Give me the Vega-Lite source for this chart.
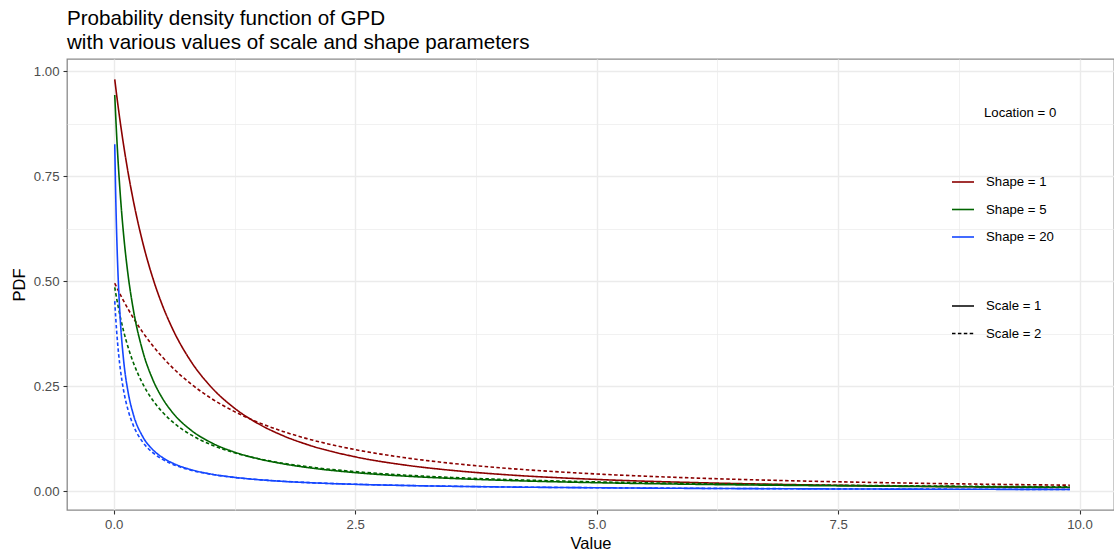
{
  "$schema": "https://vega.github.io/schema/vega-lite/v6.json",
  "width": 1047,
  "height": 451,
  "autosize": {"type": "none"},
  "padding": {"left": 67, "top": 59, "right": 0, "bottom": 44},
  "background": "white",
  "title": {
    "text": ["Probability density function of GPD", "with various values of scale and shape parameters"],
    "anchor": "start",
    "frame": "group",
    "font": "Liberation Sans",
    "fontSize": 20.6,
    "fontWeight": "normal",
    "color": "black",
    "lineHeight": 24,
    "offset": 5
  },
  "data": {
    "values": [
      {"x":0.01,"shape":1,"scale":1,"pdf":0.9803},{"x":0.02,"shape":1,"scale":1,"pdf":0.9612},{"x":0.03,"shape":1,"scale":1,"pdf":0.9426},{"x":0.04,"shape":1,"scale":1,"pdf":0.9246},{"x":0.05,"shape":1,"scale":1,"pdf":0.9070},{"x":0.07,"shape":1,"scale":1,"pdf":0.8734},{"x":0.1,"shape":1,"scale":1,"pdf":0.8264},{"x":0.15,"shape":1,"scale":1,"pdf":0.7561},{"x":0.2,"shape":1,"scale":1,"pdf":0.6944},{"x":0.3,"shape":1,"scale":1,"pdf":0.5917},{"x":0.4,"shape":1,"scale":1,"pdf":0.5102},{"x":0.5,"shape":1,"scale":1,"pdf":0.4444},{"x":0.6,"shape":1,"scale":1,"pdf":0.3906},{"x":0.8,"shape":1,"scale":1,"pdf":0.3086},{"x":1,"shape":1,"scale":1,"pdf":0.25},{"x":1.25,"shape":1,"scale":1,"pdf":0.1975},{"x":1.5,"shape":1,"scale":1,"pdf":0.16},{"x":1.75,"shape":1,"scale":1,"pdf":0.1322},{"x":2,"shape":1,"scale":1,"pdf":0.1111},{"x":2.5,"shape":1,"scale":1,"pdf":0.0816},{"x":3,"shape":1,"scale":1,"pdf":0.0625},{"x":3.5,"shape":1,"scale":1,"pdf":0.0494},{"x":4,"shape":1,"scale":1,"pdf":0.04},{"x":5,"shape":1,"scale":1,"pdf":0.0278},{"x":6,"shape":1,"scale":1,"pdf":0.0204},{"x":7,"shape":1,"scale":1,"pdf":0.0156},{"x":8,"shape":1,"scale":1,"pdf":0.0123},{"x":9,"shape":1,"scale":1,"pdf":0.01},{"x":9.9,"shape":1,"scale":1,"pdf":0.0084},
      {"x":0.01,"shape":1,"scale":2,"pdf":0.4950},{"x":0.02,"shape":1,"scale":2,"pdf":0.4902},{"x":0.03,"shape":1,"scale":2,"pdf":0.4853},{"x":0.04,"shape":1,"scale":2,"pdf":0.4806},{"x":0.05,"shape":1,"scale":2,"pdf":0.4759},{"x":0.07,"shape":1,"scale":2,"pdf":0.4668},{"x":0.1,"shape":1,"scale":2,"pdf":0.4535},{"x":0.15,"shape":1,"scale":2,"pdf":0.4327},{"x":0.2,"shape":1,"scale":2,"pdf":0.4132},{"x":0.3,"shape":1,"scale":2,"pdf":0.3781},{"x":0.4,"shape":1,"scale":2,"pdf":0.3472},{"x":0.5,"shape":1,"scale":2,"pdf":0.32},{"x":0.6,"shape":1,"scale":2,"pdf":0.2959},{"x":0.8,"shape":1,"scale":2,"pdf":0.2551},{"x":1,"shape":1,"scale":2,"pdf":0.2222},{"x":1.25,"shape":1,"scale":2,"pdf":0.1893},{"x":1.5,"shape":1,"scale":2,"pdf":0.1633},{"x":1.75,"shape":1,"scale":2,"pdf":0.1422},{"x":2,"shape":1,"scale":2,"pdf":0.125},{"x":2.5,"shape":1,"scale":2,"pdf":0.0988},{"x":3,"shape":1,"scale":2,"pdf":0.08},{"x":3.5,"shape":1,"scale":2,"pdf":0.0661},{"x":4,"shape":1,"scale":2,"pdf":0.0556},{"x":5,"shape":1,"scale":2,"pdf":0.0408},{"x":6,"shape":1,"scale":2,"pdf":0.0313},{"x":7,"shape":1,"scale":2,"pdf":0.0247},{"x":8,"shape":1,"scale":2,"pdf":0.02},{"x":9,"shape":1,"scale":2,"pdf":0.0165},{"x":9.9,"shape":1,"scale":2,"pdf":0.0141},
      {"x":0.01,"shape":5,"scale":1,"pdf":0.9431},{"x":0.02,"shape":5,"scale":1,"pdf":0.8919},{"x":0.03,"shape":5,"scale":1,"pdf":0.8456},{"x":0.04,"shape":5,"scale":1,"pdf":0.8035},{"x":0.05,"shape":5,"scale":1,"pdf":0.7651},{"x":0.07,"shape":5,"scale":1,"pdf":0.6976},{"x":0.1,"shape":5,"scale":1,"pdf":0.6147},{"x":0.15,"shape":5,"scale":1,"pdf":0.5109},{"x":0.2,"shape":5,"scale":1,"pdf":0.4353},{"x":0.3,"shape":5,"scale":1,"pdf":0.3330},{"x":0.4,"shape":5,"scale":1,"pdf":0.2676},{"x":0.5,"shape":5,"scale":1,"pdf":0.2224},{"x":0.6,"shape":5,"scale":1,"pdf":0.1895},{"x":0.8,"shape":5,"scale":1,"pdf":0.1450},{"x":1,"shape":5,"scale":1,"pdf":0.1165},{"x":1.25,"shape":5,"scale":1,"pdf":0.0928},{"x":1.5,"shape":5,"scale":1,"pdf":0.0767},{"x":1.75,"shape":5,"scale":1,"pdf":0.0651},{"x":2,"shape":5,"scale":1,"pdf":0.0563},{"x":2.5,"shape":5,"scale":1,"pdf":0.0440},{"x":3,"shape":5,"scale":1,"pdf":0.0359},{"x":3.5,"shape":5,"scale":1,"pdf":0.0302},{"x":4,"shape":5,"scale":1,"pdf":0.0259},{"x":5,"shape":5,"scale":1,"pdf":0.0200},{"x":6,"shape":5,"scale":1,"pdf":0.0162},{"x":7,"shape":5,"scale":1,"pdf":0.0136},{"x":8,"shape":5,"scale":1,"pdf":0.0116},{"x":9,"shape":5,"scale":1,"pdf":0.0101},{"x":9.9,"shape":5,"scale":1,"pdf":0.0090},
      {"x":0.01,"shape":5,"scale":2,"pdf":0.4854},{"x":0.02,"shape":5,"scale":2,"pdf":0.4716},{"x":0.03,"shape":5,"scale":2,"pdf":0.4584},{"x":0.04,"shape":5,"scale":2,"pdf":0.4460},{"x":0.05,"shape":5,"scale":2,"pdf":0.4341},{"x":0.07,"shape":5,"scale":2,"pdf":0.4120},{"x":0.1,"shape":5,"scale":2,"pdf":0.3825},{"x":0.15,"shape":5,"scale":2,"pdf":0.3412},{"x":0.2,"shape":5,"scale":2,"pdf":0.3074},{"x":0.3,"shape":5,"scale":2,"pdf":0.2555},{"x":0.4,"shape":5,"scale":2,"pdf":0.2176},{"x":0.5,"shape":5,"scale":2,"pdf":0.1890},{"x":0.6,"shape":5,"scale":2,"pdf":0.1665},{"x":0.8,"shape":5,"scale":2,"pdf":0.1338},{"x":1,"shape":5,"scale":2,"pdf":0.1112},{"x":1.25,"shape":5,"scale":2,"pdf":0.0913},{"x":1.5,"shape":5,"scale":2,"pdf":0.0771},{"x":1.75,"shape":5,"scale":2,"pdf":0.0664},{"x":2,"shape":5,"scale":2,"pdf":0.0582},{"x":2.5,"shape":5,"scale":2,"pdf":0.0464},{"x":3,"shape":5,"scale":2,"pdf":0.0383},{"x":3.5,"shape":5,"scale":2,"pdf":0.0325},{"x":4,"shape":5,"scale":2,"pdf":0.0281},{"x":5,"shape":5,"scale":2,"pdf":0.0220},{"x":6,"shape":5,"scale":2,"pdf":0.0180},{"x":7,"shape":5,"scale":2,"pdf":0.0151},{"x":8,"shape":5,"scale":2,"pdf":0.0130},{"x":9,"shape":5,"scale":2,"pdf":0.0113},{"x":9.9,"shape":5,"scale":2,"pdf":0.0101},
      {"x":0.01,"shape":20,"scale":1,"pdf":0.8258},{"x":0.02,"shape":20,"scale":1,"pdf":0.7024},{"x":0.03,"shape":20,"scale":1,"pdf":0.6105},{"x":0.04,"shape":20,"scale":1,"pdf":0.5395},{"x":0.05,"shape":20,"scale":1,"pdf":0.4830},{"x":0.07,"shape":20,"scale":1,"pdf":0.3988},{"x":0.1,"shape":20,"scale":1,"pdf":0.3155},{"x":0.15,"shape":20,"scale":1,"pdf":0.2333},{"x":0.2,"shape":20,"scale":1,"pdf":0.1845},{"x":0.3,"shape":20,"scale":1,"pdf":0.1296},{"x":0.4,"shape":20,"scale":1,"pdf":0.0995},{"x":0.5,"shape":20,"scale":1,"pdf":0.0806},{"x":0.6,"shape":20,"scale":1,"pdf":0.0677},{"x":0.8,"shape":20,"scale":1,"pdf":0.0511},{"x":1,"shape":20,"scale":1,"pdf":0.0409},{"x":1.25,"shape":20,"scale":1,"pdf":0.0327},{"x":1.5,"shape":20,"scale":1,"pdf":0.0272},{"x":1.75,"shape":20,"scale":1,"pdf":0.0232},{"x":2,"shape":20,"scale":1,"pdf":0.0203},{"x":2.5,"shape":20,"scale":1,"pdf":0.0161},{"x":3,"shape":20,"scale":1,"pdf":0.0134},{"x":3.5,"shape":20,"scale":1,"pdf":0.0114},{"x":4,"shape":20,"scale":1,"pdf":0.0099},{"x":5,"shape":20,"scale":1,"pdf":0.0079},{"x":6,"shape":20,"scale":1,"pdf":0.0065},{"x":7,"shape":20,"scale":1,"pdf":0.0055},{"x":8,"shape":20,"scale":1,"pdf":0.0048},{"x":9,"shape":20,"scale":1,"pdf":0.0043},{"x":9.9,"shape":20,"scale":1,"pdf":0.0039},
      {"x":0.01,"shape":20,"scale":2,"pdf":0.4524},{"x":0.02,"shape":20,"scale":2,"pdf":0.4129},{"x":0.03,"shape":20,"scale":2,"pdf":0.3796},{"x":0.04,"shape":20,"scale":2,"pdf":0.3512},{"x":0.05,"shape":20,"scale":2,"pdf":0.3266},{"x":0.07,"shape":20,"scale":2,"pdf":0.2864},{"x":0.1,"shape":20,"scale":2,"pdf":0.2415},{"x":0.15,"shape":20,"scale":2,"pdf":0.1911},{"x":0.2,"shape":20,"scale":2,"pdf":0.1578},{"x":0.3,"shape":20,"scale":2,"pdf":0.1166},{"x":0.4,"shape":20,"scale":2,"pdf":0.0923},{"x":0.5,"shape":20,"scale":2,"pdf":0.0762},{"x":0.6,"shape":20,"scale":2,"pdf":0.0648},{"x":0.8,"shape":20,"scale":2,"pdf":0.0498},{"x":1,"shape":20,"scale":2,"pdf":0.0403},{"x":1.25,"shape":20,"scale":2,"pdf":0.0325},{"x":1.5,"shape":20,"scale":2,"pdf":0.0272},{"x":1.75,"shape":20,"scale":2,"pdf":0.0234},{"x":2,"shape":20,"scale":2,"pdf":0.0204},{"x":2.5,"shape":20,"scale":2,"pdf":0.0163},{"x":3,"shape":20,"scale":2,"pdf":0.0136},{"x":3.5,"shape":20,"scale":2,"pdf":0.0116},{"x":4,"shape":20,"scale":2,"pdf":0.0101},{"x":5,"shape":20,"scale":2,"pdf":0.0081},{"x":6,"shape":20,"scale":2,"pdf":0.0067},{"x":7,"shape":20,"scale":2,"pdf":0.0057},{"x":8,"shape":20,"scale":2,"pdf":0.0050},{"x":9,"shape":20,"scale":2,"pdf":0.0044},{"x":9.9,"shape":20,"scale":2,"pdf":0.0040}
    ]
  },
  "mark": {"type": "line", "interpolate": "monotone", "strokeWidth": 1.6, "clip": true},
  "encoding": {
    "x": {
      "field": "x", "type": "quantitative",
      "scale": {"domain": [-0.4845, 10.357], "nice": false, "zero": false},
      "axis": {
        "title": "Value",
        "values": [0, 1.25, 2.5, 3.75, 5, 6.25, 7.5, 8.75, 10],
        "labelExpr": "datum.value % 2.5 === 0 ? format(datum.value, '.1f') : ''",
        "gridWidth": {"condition": {"test": "datum.value % 2.5 === 0", "value": 1.4}, "value": 0.7},
        "tickOpacity": {"condition": {"test": "datum.value % 2.5 === 0", "value": 1}, "value": 0},
        "labelPadding": 4,
        "titlePadding": 5
      }
    },
    "y": {
      "field": "pdf", "type": "quantitative",
      "scale": {"domain": [-0.045, 1.029], "nice": false, "zero": false},
      "axis": {
        "title": "PDF",
        "values": [0, 0.125, 0.25, 0.375, 0.5, 0.625, 0.75, 0.875, 1],
        "labelExpr": "datum.value % 0.25 === 0 ? format(datum.value, '.2f') : ''",
        "gridWidth": {"condition": {"test": "datum.value % 0.25 === 0", "value": 1.4}, "value": 0.7},
        "tickOpacity": {"condition": {"test": "datum.value % 0.25 === 0", "value": 1}, "value": 0},
        "labelPadding": 4,
        "titlePadding": 6
      }
    },
    "color": {
      "field": "shape", "type": "ordinal",
      "scale": {"domain": [1, 5, 20], "range": ["#8B0000", "#006400", "#1446FF"]},
      "legend": {"title": null, "orient": "none", "legendX": 884, "legendY": 111, "labelExpr": "'Shape = ' + datum.label"}
    },
    "strokeDash": {
      "field": "scale", "type": "ordinal",
      "scale": {"domain": [1, 2], "range": [[1, 0], [3.5, 2.4]]},
      "legend": {"title": null, "orient": "none", "legendX": 884, "legendY": 235, "symbolStrokeColor": "black", "labelExpr": "'Scale = ' + datum.label"}
    },
    "opacity": {
      "datum": "Location = 0", "type": "nominal",
      "scale": {"range": [1]},
      "legend": {"title": null, "orient": "none", "legendX": 884, "legendY": 43, "symbolOpacity": 0, "symbolStrokeColor": "transparent", "symbolStrokeWidth": 0}
    }
  },
  "config": {
    "font": "Liberation Sans",
    "view": {"stroke": "#8a8a8a", "strokeWidth": 1.3},
    "axis": {
      "domain": false,
      "grid": true,
      "gridColor": "#EBEBEB",
      "tickColor": "#333333",
      "tickSize": 4,
      "tickWidth": 1.1,
      "labelFont": "Liberation Sans",
      "labelFontSize": 13.2,
      "labelColor": "#4D4D4D",
      "labelFlush": false,
      "labelOverlap": false,
      "titleFont": "Liberation Sans",
      "titleFontSize": 16.5,
      "titleFontWeight": "normal",
      "titleColor": "black"
    },
    "legend": {
      "padding": 0,
      "labelFont": "Liberation Sans",
      "labelFontSize": 13.2,
      "labelColor": "black",
      "symbolType": "stroke",
      "symbolSize": 484,
      "symbolStrokeWidth": 1.6,
      "rowPadding": 8.5,
      "labelOffset": 11
    }
  }
}
